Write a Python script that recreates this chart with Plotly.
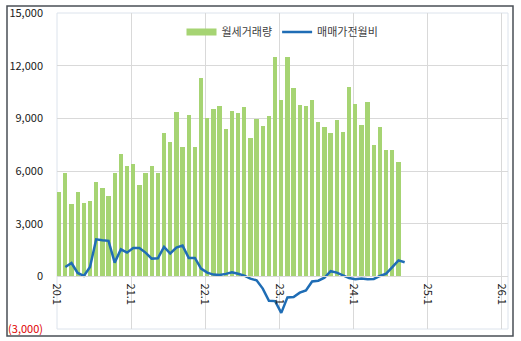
import plotly.graph_objects as go

# ---- data ----
year_ticks = ["20.1", "21.1", "22.1", "23.1", "24.1", "25.1", "26.1"]
year_tick_index = [0, 12, 24, 36, 48, 60, 72]

rent_volume = [4800, 5870, 4110, 4800, 4170, 4290, 5370, 5030, 4570, 5870, 6970, 6290,
               6400, 5200, 5870, 6290, 5870, 8170, 7660, 9370, 7370, 9200, 7370, 11310,
               9010, 9540, 9710, 8400, 9430, 9310, 9660, 7890, 8990, 8570, 9140, 12510,
               10060, 12510, 10740, 9770, 9710, 10060, 8800, 8510, 8170, 8910, 8230, 10800,
               9830, 8630, 9940, 7490, 8510, 7200, 7200, 6510]

price_mom = [None, 530, 760, 190, 20, 530, 2110, 2060, 2020, 780, 1540, 1350,
             1620, 1620, 1350, 1010, 1030, 1680, 1300, 1640, 1750, 1050, 1050, 440,
             210, 100, 80, 140, 230, 150, 40, -130, -230, -700, -1390, -1410,
             -2080, -1200, -1180, -930, -800, -290, -250, -80, 290, 210, 60, -100,
             -170, -130, -170, -150, 20, 150, 530, 910, 800]

y_ticks = [-3000, 0, 3000, 6000, 9000, 12000, 15000]
y_ticktext = ["<span style='color:#E00000'>(3,000)</span>", "0", "3,000", "6,000",
              "9,000", "12,000", "15,000"]

series_names = ["월세거래량", "매매가전월비"]

# ---- style ----
GREEN = "#A6D473"
BLUE = "#1F6DB5"
GRID = "#D9D9D9"
FONT = "Noto Sans CJK KR"
BAR_W = 0.7

W, H = 521, 341
L, R, T, B = 57, 13, 13, 12
pw, ph = W - L - R, H - T - B

bar_x = list(range(len(rent_volume)))
line_x = [i + BAR_W / 2 for i in range(len(price_mom))]

fig = go.Figure()
fig.add_trace(go.Bar(x=bar_x, y=rent_volume, width=BAR_W, offset=0,
                     marker=dict(color=GREEN, line=dict(width=0)),
                     name=series_names[0], showlegend=False))
fig.add_trace(go.Scatter(x=line_x, y=price_mom, mode="lines",
                         line=dict(color=BLUE, width=2.5),
                         name=series_names[1], showlegend=False))
# legend-only entries
fig.add_trace(go.Scatter(x=[None], y=[None], mode="lines",
                         line=dict(color=GREEN, width=7), name=series_names[0]))
fig.add_trace(go.Scatter(x=[None], y=[None], mode="lines",
                         line=dict(color=BLUE, width=2.5), name=series_names[1]))

def px2paper_x(p):
    return (p - L) / pw

def px2paper_y(p):
    return (H - B - p) / ph

fig.update_layout(
    width=W, height=H,
    margin=dict(l=L, r=R, t=T, b=B, pad=0, autoexpand=False),
    paper_bgcolor="white", plot_bgcolor="white",
    font=dict(family=FONT, size=11, color="#404040"),
    bargap=0,
    legend=dict(orientation="h", x=0.5, xanchor="center", y=px2paper_y(32),
                yanchor="middle", bgcolor="rgba(0,0,0,0)",
                font=dict(family=FONT, size=11, color="#404040"),
                itemwidth=30, tracegroupgap=0),
    xaxis=dict(range=[0, 73.1], tickmode="array", tickvals=year_tick_index,
               ticktext=year_ticks, tickangle=90, showgrid=True, gridcolor=GRID,
               gridwidth=1, zeroline=False, showline=True, linecolor=GRID,
               anchor="free", position=(0 - y_ticks[0]) / (y_ticks[-1] - y_ticks[0]),
               ticks="", ticklabelstandoff=4, automargin=False,
               tickfont=dict(family=FONT, size=11, color="#202020")),
    yaxis=dict(range=[y_ticks[0], y_ticks[-1]], tickmode="array", tickvals=y_ticks,
               ticktext=y_ticktext, showgrid=True, gridcolor=GRID, gridwidth=1,
               zeroline=False, showline=False, ticks="", ticklabelstandoff=13,
               automargin=False,
               tickfont=dict(family=FONT, size=11, color="#202020")),
    shapes=[
        dict(type="rect", xref="paper", yref="paper", x0=0, x1=1, y0=0, y1=1,
             line=dict(color="#DCE3EC", width=1), layer="below"),
        dict(type="rect", xref="paper", yref="paper",
             x0=px2paper_x(7), x1=px2paper_x(513), y0=px2paper_y(336), y1=px2paper_y(6),
             line=dict(color="#4A4F55", width=1.5)),
    ],
)

fig.write_html("out.html")
